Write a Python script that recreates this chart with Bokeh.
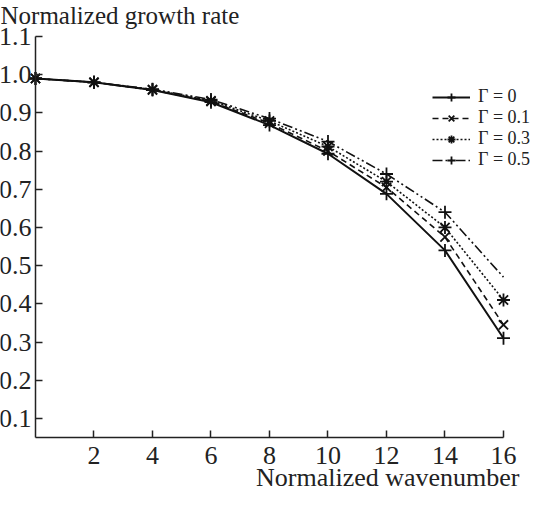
from bokeh.plotting import figure
from bokeh.models import Legend, LegendItem, Label, FixedTicker, Range1d, CustomJSTickFormatter
from bokeh.embed import file_html
from bokeh.resources import INLINE

k = [0, 2, 4, 6, 8, 10, 12, 14, 16]
g00 = [0.99, 0.98, 0.960, 0.928, 0.868, 0.793, 0.688, 0.540, 0.310]
g01 = [0.99, 0.98, 0.960, 0.930, 0.873, 0.800, 0.705, 0.575, 0.345]
g03 = [0.99, 0.98, 0.961, 0.932, 0.879, 0.812, 0.720, 0.600, 0.410]
g05 = [0.99, 0.98, 0.962, 0.935, 0.885, 0.825, 0.740, 0.640, 0.470]
labels = ["Γ = 0", "Γ = 0.1", "Γ = 0.3", "Γ = 0.5"]
x_ticks = [2, 4, 6, 8, 10, 12, 14, 16]
y_ticks = [0.1, 0.2, 0.3, 0.4, 0.5, 0.6, 0.7, 0.8, 0.9, 1.0, 1.1]
x_title = "Normalized wavenumber"
y_title = "Normalized growth rate"

FONT = "Liberation Serif"
TXT = "#222222"

W, H = 538, 492
p = figure(width=W, height=H, output_backend="svg", toolbar_location=None,
           x_range=Range1d(-1.1966, 17.197), y_range=Range1d(-0.0940, 1.1943),
           min_border_left=0, min_border_right=0, min_border_top=0, min_border_bottom=0)
p.outline_line_color = None
p.xgrid.visible = False
p.ygrid.visible = False

xa = p.xaxis[0]
ya = p.yaxis[0]
xa.fixed_location = 0.05
ya.fixed_location = 0
xa.bounds = (0, 16)
ya.bounds = (0.05, 1.1)
for ax, ticks in ((xa, x_ticks), (ya, y_ticks)):
    ax.ticker = FixedTicker(ticks=ticks)
    ax.major_tick_in = 7
    ax.major_tick_out = 0
    ax.minor_tick_in = 0
    ax.minor_tick_out = 0
    ax.axis_line_width = 1.5
    ax.axis_line_color = TXT
    ax.major_tick_line_width = 1.5
    ax.major_tick_line_color = TXT
    ax.major_label_text_font = FONT
    ax.major_label_text_font_size = "26px"
    ax.major_label_text_color = TXT
ya.formatter = CustomJSTickFormatter(code="return tick.toFixed(1)")
xa.major_label_standoff = 9
ya.major_label_standoff = 4

series = [g00, g01, g03, g05]
dashes = ["solid", "6 4", "2 2", "10 3 2 3 2 3"]
widths = [2, 1.6, 1.6, 1.6]
markers = ["cross", "x", "asterisk", "cross"]

items = []
for i, (g, d, w, m, lab) in enumerate(zip(series, dashes, widths, markers, labels)):
    ln = p.line(k, g, line_color="#111111", line_width=w, line_dash=d)
    mk_k = k if i < 3 else k[:-1]
    mk_g = g if i < 3 else g[:-1]
    sc = p.scatter(mk_k, mk_g, marker=m, size=13, line_color="#111111", line_width=1.8,
                   fill_color=None)
    items.append(LegendItem(label=lab, renderers=[ln, sc]))

legend = Legend(items=items, location=(432, 322), padding=0, margin=0,
                border_line_color=None, background_fill_alpha=0,
                label_text_font=FONT, label_text_font_size="18px",
                label_text_color=TXT,
                glyph_width=38, glyph_height=20, label_height=15, spacing=0,
                label_standoff=8)
p.add_layout(legend, "center")

p.add_layout(Label(x=0, y=477, x_units="screen", y_units="screen",
                   text=y_title, text_font=FONT,
                   text_font_size="25px", text_color=TXT,
                   text_baseline="alphabetic", text_align="left"))
p.add_layout(Label(x=519, y=15, x_units="screen", y_units="screen",
                   text=x_title, text_font=FONT,
                   text_font_size="26px", text_color=TXT,
                   text_baseline="alphabetic", text_align="right"))

open("out.html", "w").write(file_html(p, INLINE))
